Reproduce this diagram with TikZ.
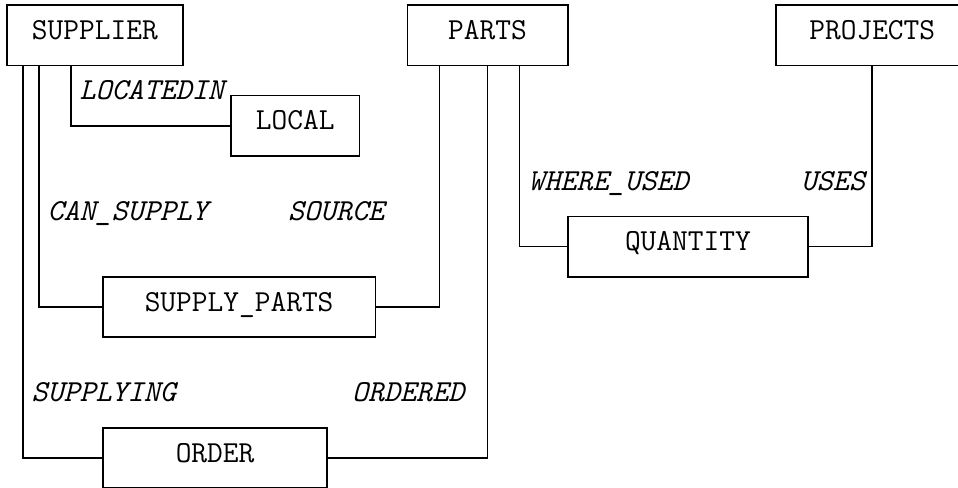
\documentclass[tikz,border=0pt]{standalone}
\usepackage{fontspec}

\begin{document}
\begin{tikzpicture}[x=12.02pt, y=-22.65pt, line width=1.2pt,
	every node/.style={font=\ttfamily\fontsize{22.9pt}{26pt}\selectfont, text height=0.611em, text depth=0pt},
	entity/.style={draw, rectangle, inner sep=0pt, minimum height=45.3pt},
	rel/.style={anchor=west, inner sep=0pt, font=\ttfamily\itshape\fontsize{22.9pt}{26pt}\selectfont}]
	\clip (-0.418,-0.166) rectangle (59.35,15.98);

	\node[entity, minimum width=132.22pt] at (5.5, 1) (supplier) {SUPPLIER};
	\node[entity, minimum width=120.2pt] at (30, 1) (parts) {PARTS};
	\node[entity, minimum width=144.24pt] at (54, 1) (projects) {PROJECTS\ };
	\node[entity, minimum width=96.16pt] at (18, 4) (local) {LOCAL};
	\node[entity, minimum width=180.3pt] at (42.5, 8) (quantity) {QUANTITY};
	\node[entity, minimum width=204.34pt] at (14.5, 10) (supplyparts) {SUPPLY\_PARTS};
	\node[entity, minimum width=168.28pt] at (13, 15) (order) {ORDER};

	\coordinate (c1) at (1, 0);
	\coordinate (c2) at (2, 0);
	\coordinate (c4) at (4, 0);
	\coordinate (c27) at (27, 0);
	\coordinate (c30) at (30, 0);
	\coordinate (c32) at (32, 0);
	\coordinate (c54) at (54, 0);

	\draw (supplier.south -| c4) |- (local.west);
	\draw (supplier.south -| c2) |- (supplyparts.west);
	\draw (parts.south -| c27) |- (supplyparts.east);
	\draw (supplier.south -| c1) |- (order.west);
	\draw (parts.south -| c30) |- (order.east);
	\draw (parts.south -| c32) |- (quantity.west);
	\draw (projects.south -| c54) |- (quantity.east);

	\node[rel] at (4.5, 3) (locatedin) {LOCATEDIN};
	\node[rel] at (2.5, 7) (cansupply) {CAN\_SUPPLY};
	\node[rel] at (17.5, 7) (source) {SOURCE};
	\node[rel] at (32.5, 6) (whereused) {WHERE\_USED};
	\node[rel] at (49.5, 6) (uses) {USES};
	\node[rel] at (1.5, 13) (supplying) {SUPPLYING};
	\node[rel] at (21.5, 13) (ordered) {ORDERED};
\end{tikzpicture}
\end{document}
